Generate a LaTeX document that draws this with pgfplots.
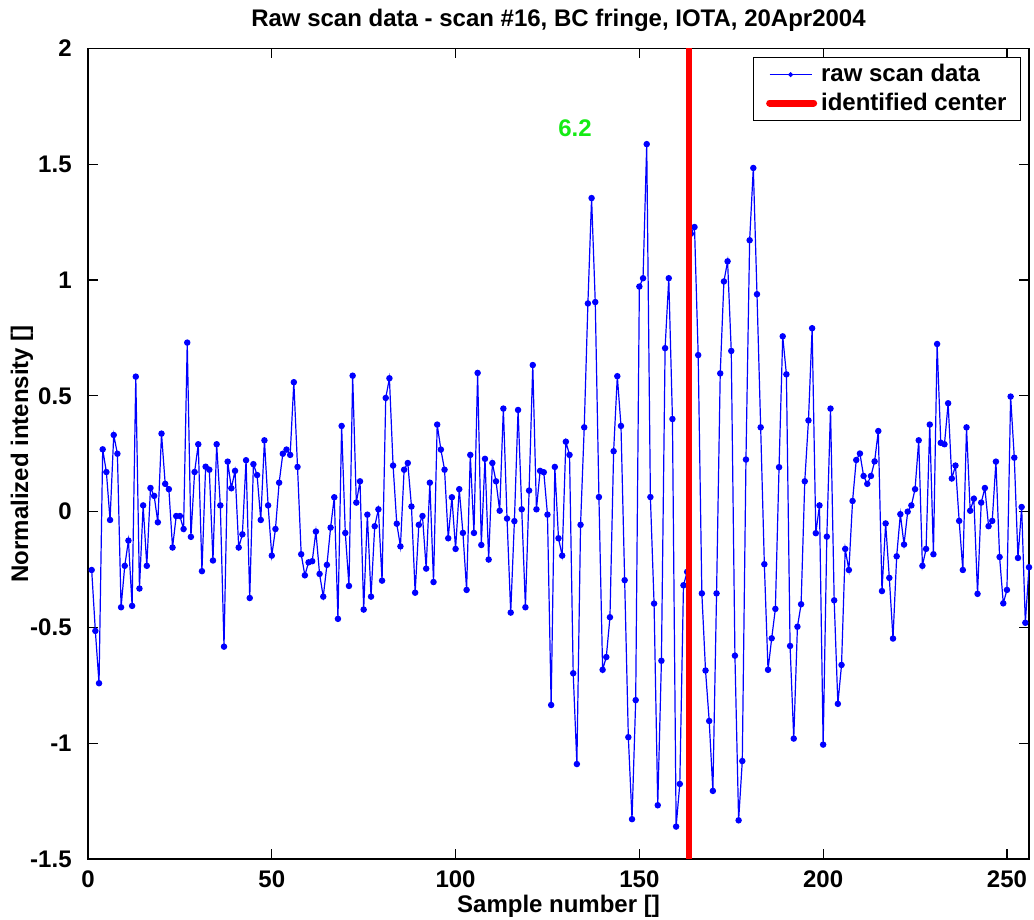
\documentclass[border=0pt]{standalone}
\usepackage{fontspec}
\setmainfont{Liberation Sans}
\usepackage{pgfplots}
\usepackage{pgfplotstable}
\pgfplotsset{compat=1.18}
\definecolor{mgreen}{RGB}{20,235,20}
\pgfplotstableread{
x y
1 -0.252
2 -0.515
3 -0.741
4 0.269
5 0.171
6 -0.036
7 0.331
8 0.25
9 -0.413
10 -0.234
11 -0.125
12 -0.407
13 0.583
14 -0.332
15 0.027
16 -0.234
17 0.102
18 0.068
19 -0.046
20 0.337
21 0.12
22 0.097
23 -0.155
24 -0.019
25 -0.019
26 -0.075
27 0.73
28 -0.109
29 0.171
30 0.291
31 -0.257
32 0.194
33 0.181
34 -0.211
35 0.291
36 0.027
37 -0.583
38 0.216
39 0.101
40 0.176
41 -0.155
42 -0.098
43 0.222
44 -0.373
45 0.205
46 0.158
47 -0.036
48 0.308
49 0.027
50 -0.19
51 -0.075
52 0.125
53 0.25
54 0.268
55 0.245
56 0.559
57 0.193
58 -0.184
59 -0.275
60 -0.219
61 -0.214
62 -0.086
63 -0.269
64 -0.367
65 -0.23
66 -0.069
67 0.062
68 -0.463
69 0.37
70 -0.092
71 -0.321
72 0.587
73 0.039
74 0.131
75 -0.423
76 -0.013
77 -0.367
78 -0.063
79 0.01
80 -0.298
81 0.491
82 0.576
83 0.199
84 -0.052
85 -0.15
86 0.181
87 0.21
88 0.022
89 -0.35
90 -0.057
91 -0.019
92 -0.246
93 0.125
94 -0.304
95 0.376
96 0.268
97 0.181
98 -0.115
99 0.062
100 -0.161
101 0.097
102 -0.092
103 -0.338
104 0.245
105 -0.092
106 0.599
107 -0.144
108 0.228
109 -0.207
110 0.21
111 0.131
112 0.004
113 0.445
114 -0.03
115 -0.436
116 -0.041
117 0.439
118 0.01
119 -0.413
120 0.091
121 0.633
122 0.01
123 0.176
124 0.17
125 -0.013
126 -0.835
127 0.193
128 -0.115
129 -0.19
130 0.302
131 0.245
132 -0.698
133 -1.09
134 -0.057
135 0.364
136 0.899
137 1.354
138 0.905
139 0.063
140 -0.683
141 -0.628
142 -0.456
143 0.261
144 0.585
145 0.37
146 -0.296
147 -0.974
148 -1.328
149 -0.814
150 0.972
151 1.008
152 1.587
153 0.063
154 -0.397
155 -1.268
156 -0.644
157 0.706
158 1.008
159 0.4
160 -1.36
161 -1.176
162 -0.318
163 -0.26
164 1.2
165 1.229
166 0.676
167 -0.353
168 -0.686
169 -0.904
170 -1.206
171 -0.353
172 0.597
173 0.994
174 1.081
175 0.694
176 -0.622
177 -1.333
178 -1.077
179 0.225
180 1.172
181 1.484
182 0.939
183 0.364
184 -0.227
185 -0.683
186 -0.547
187 -0.42
188 0.192
189 0.757
190 0.593
191 -0.58
192 -0.98
193 -0.497
194 -0.4
195 0.131
196 0.394
197 0.792
198 -0.093
199 0.027
200 -1.006
201 -0.108
202 0.445
203 -0.383
204 -0.83
205 -0.662
206 -0.161
207 -0.252
208 0.046
209 0.223
210 0.251
211 0.154
212 0.12
213 0.154
214 0.217
215 0.348
216 -0.343
217 -0.051
218 -0.286
219 -0.548
220 -0.193
221 -0.011
222 -0.142
223 0.0
224 0.027
225 0.097
226 0.308
227 -0.234
228 -0.161
229 0.376
230 -0.184
231 0.724
232 0.297
233 0.291
234 0.468
235 0.143
236 0.199
237 -0.04
238 -0.252
239 0.364
240 0.004
241 0.056
242 -0.355
243 0.039
244 0.102
245 -0.063
246 -0.04
247 0.216
248 -0.196
249 -0.396
250 -0.338
251 0.497
252 0.233
253 -0.2
254 0.02
255 -0.48
256 -0.24
}\rawscan
\begin{document}
\begin{tikzpicture}[font=\fontsize{12}{14}\selectfont\bfseries]
\path[use as bounding box] (-44pt,-30.5pt) rectangle (473pt,429.5pt);
\begin{axis}[
  at={(0,0)}, anchor=south west,
  scale only axis, width=470.5pt, height=405.25pt,
  xmin=0, xmax=256, ymin=-1.5, ymax=2,
  clip=false, clip marker paths=true,
  xtick={0,50,100,150,200,250}, xticklabels={0,50,100,150,200,250},
  ytick={-1.5,-1,-0.5,0,0.5,1,1.5,2}, yticklabels={-1.5,-1,-0.5,0,0.5,1,1.5,2},
  tick pos=both, xticklabel pos=lower, yticklabel pos=left,
  tick align=inside, major tick length=5pt,
  tick style={black, line width=0.6pt},
  axis line style={black, line width=0.75pt},
  xticklabel style={anchor=north, inner sep=0pt, yshift=-5.5pt},
  yticklabel style={anchor=east, inner sep=0pt, xshift=-8pt},
  title={Raw scan data - scan \#16, BC fringe, IOTA, 20Apr2004},
  every axis title/.style={at={(axis description cs:0.5,1.02653)}, anchor=base, inner sep=0pt},
  xlabel={Sample number []},
  xlabel style={at={(axis description cs:0.5,-0.0654)}, anchor=base, inner sep=0pt},
  ylabel={Normalized intensity []},
  ylabel style={at={(axis description cs:-0.0701,0.5)}, anchor=center, inner sep=0pt},
  legend style={at={(axis description cs:1,1)}, anchor=north east, xshift=-4pt, yshift=-4.25pt,
    draw=black, line width=0.5pt, fill=white, inner xsep=5pt, inner ysep=1.5pt,
    cells={anchor=west}, row sep=0pt, font=\fontsize{12}{14}\selectfont\bfseries},
]
\addplot[blue, line width=0.6pt, mark=*, mark size=1.3pt, mark options={solid, fill=blue, draw=blue},
  legend image code/.code={\path (0pt,0pt); \draw[mark size=0.9pt, mark repeat=2, mark phase=2] plot coordinates {(1.5pt,0pt) (12pt,0pt) (22.5pt,0pt)};}]
  table[x=x, y=y] {\rawscan};
\addlegendentry{raw scan data}
\addplot[red, line width=3pt,
  legend image code/.code={\path (0pt,0pt); \draw[line width=3.5pt, line cap=round] (1.5pt,0pt) -- (23.5pt,0pt);}]
  coordinates {(163.4,-1.5) (163.4,2)};
\addlegendentry{identified center}
\node[text=mgreen, inner sep=0pt] at (axis cs:132.5,1.657) {6.2};
\end{axis}
\end{tikzpicture}
\end{document}
